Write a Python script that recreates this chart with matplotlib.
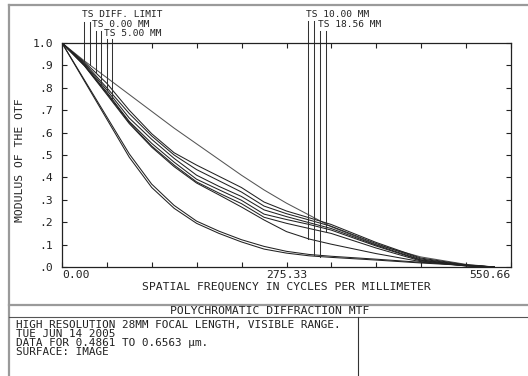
import numpy as np
import matplotlib
matplotlib.use("Agg")
import matplotlib.pyplot as plt

plt.rcParams['font.family'] = ['DejaVu Sans Mono', 'DejaVu Sans']

# ---- MTF values ----
freq = [0, 27.5, 55, 82.5, 110, 137.5, 165, 192.5, 220, 247.8, 275.3, 303, 330, 385, 440, 495, 530]

diff_limit = [1.0, 0.92, 0.845, 0.77, 0.695, 0.62, 0.55, 0.48, 0.41, 0.344, 0.285, 0.232, 0.18, 0.10, 0.045, 0.012, 0.0]
mid1 = [1.0, 0.915, 0.82, 0.70, 0.595, 0.51, 0.455, 0.405, 0.355, 0.29, 0.25, 0.22, 0.19, 0.11, 0.04, 0.01, 0.0]
mid2 = [1.0, 0.91, 0.80, 0.685, 0.585, 0.50, 0.435, 0.385, 0.335, 0.272, 0.238, 0.21, 0.182, 0.105, 0.036, 0.008, 0.0]
mid3 = [1.0, 0.905, 0.79, 0.665, 0.57, 0.485, 0.41, 0.36, 0.315, 0.255, 0.225, 0.198, 0.172, 0.098, 0.032, 0.007, 0.0]
mid4 = [1.0, 0.90, 0.78, 0.65, 0.552, 0.468, 0.392, 0.345, 0.298, 0.236, 0.212, 0.19, 0.165, 0.094, 0.03, 0.006, 0.0]
mid5 = [1.0, 0.90, 0.775, 0.645, 0.54, 0.455, 0.38, 0.33, 0.283, 0.222, 0.195, 0.172, 0.15, 0.085, 0.027, 0.005, 0.0]
mid6 = [1.0, 0.898, 0.77, 0.64, 0.535, 0.448, 0.375, 0.322, 0.268, 0.21, 0.158, 0.125, 0.102, 0.06, 0.024, 0.005, 0.0]
low1 = [1.0, 0.835, 0.67, 0.505, 0.37, 0.275, 0.205, 0.16, 0.122, 0.092, 0.07, 0.056, 0.048, 0.035, 0.021, 0.008, 0.0]
low2 = [1.0, 0.83, 0.66, 0.49, 0.355, 0.262, 0.195, 0.15, 0.112, 0.08, 0.062, 0.05, 0.043, 0.031, 0.018, 0.007, 0.0]

curves = {"diff": diff_limit, "m1": mid1, "m2": mid2, "m3": mid3, "m4": mid4,
          "m5": mid5, "m6": mid6, "l1": low1, "l2": low2}

# leader lines: frequency, curve they point at, top of the line
leader_freq = [27, 34, 42, 48, 55, 61, 302, 309, 316, 324]
leader_curve = ["diff", "diff", "m1", "m6", "m3", "m5", "m6", "l1", "l2", "m5"]
leader_top = [1.095, 1.095, 1.055, 1.055, 1.0165, 1.0165, 1.098, 1.098, 1.055, 1.055]

legend_text = ["TS DIFF. LIMIT", "TS 0.00 MM", "TS 5.00 MM", "TS 10.00 MM", "TS 18.56 MM"]
legend_x = [24.5, 36.8, 51.5, 299, 314]
legend_y = [1.115, 1.073, 1.031, 1.115, 1.073]

x_ticks = np.linspace(0, 550.66, 11)
x_tick_labels = ["0.00", "", "", "", "", "275.33", "", "", "", "", "550.66"]
y_ticks = np.linspace(0, 1.0, 11)
y_tick_labels = [".0", ".1", ".2", ".3", ".4", ".5", ".6", ".7", ".8", ".9", "1.0"]

info_lines = ["HIGH RESOLUTION 28MM FOCAL LENGTH, VISIBLE RANGE.",
              "TUE JUN 14 2005",
              "DATA FOR 0.4861 TO 0.6563 µm.",
              "SURFACE: IMAGE"]

W, H = 528, 376
fig = plt.figure(figsize=(W / 100, H / 100), dpi=100)

# ---- page frame in pixel coordinates ----
frame = fig.add_axes([0, 0, 1, 1])
frame.set_xlim(0, W)
frame.set_ylim(H, 0)
frame.axis("off")
grey = "#9a9a9a"
frame.plot([9, 9], [5, H], color=grey, lw=1.6)
frame.plot([9, W], [5, 5], color=grey, lw=1.6)
frame.plot([9, W], [305, 305], color=grey, lw=1.6)
frame.plot([9, W], [317, 317], color="#555555", lw=0.8)
frame.plot([358, 358], [317, H], color="#333333", lw=0.8)
frame.text(270, 313.5, "POLYCHROMATIC DIFFRACTION MTF", ha="center", va="baseline",
           fontsize=8.2, color="#222222")
for i, line in enumerate(info_lines):
    frame.text(16, 327.7 + 9 * i, line, ha="left", va="baseline", fontsize=7.9, color="#222222")

# ---- MTF plot ----
ax = fig.add_axes([62 / W, (H - 267) / H, 449 / W, 224 / H])
ax.patch.set_alpha(0)
for key, vals in curves.items():
    c = "#555555" if key == "diff" else "#222222"
    ax.plot(freq, vals, color=c, lw=0.75)

for f, key, top in zip(leader_freq, leader_curve, leader_top):
    bottom = np.interp(f, freq, curves[key])
    ax.plot([f, f], [bottom, top], color="#333333", lw=0.75, clip_on=False)

for txt, x, y in zip(legend_text, legend_x, legend_y):
    ax.text(x, y, txt, ha="left", va="baseline", fontsize=6.8, color="#222222", clip_on=False)

ax.set_xlim(0, 550.66)
ax.set_ylim(0, 1.0)
ax.set_xticks(x_ticks, x_tick_labels)
ax.set_yticks(y_ticks, y_tick_labels)
xl = ax.get_xticklabels()
xl[0].set_horizontalalignment("left")
xl[-1].set_horizontalalignment("right")

ax.tick_params(direction="in", top=True, right=True, length=3.5, width=0.8,
               labelsize=8.2, colors="#222222")
ax.tick_params(axis="x", pad=2.3)
ax.tick_params(axis="y", pad=6.5)
for s in ax.spines.values():
    s.set_linewidth(0.9)
    s.set_color("#222222")

ax.set_xlabel("SPATIAL FREQUENCY IN CYCLES PER MILLIMETER", fontsize=8.2, color="#222222", va="top")
ax.xaxis.set_label_coords(0.5, -0.066)
ax.set_ylabel("MODULUS OF THE OTF", fontsize=8.2, color="#222222")
ax.yaxis.set_label_coords(-0.082, 0.478)

fig.savefig("out.png", dpi=100)
